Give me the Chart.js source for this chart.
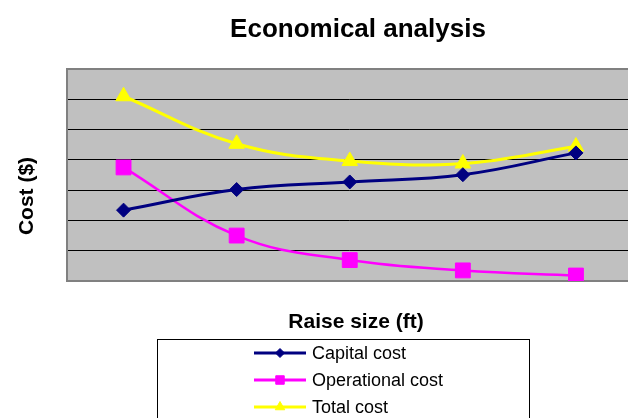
<!DOCTYPE html>
<html>
<head>
<meta charset="utf-8">
<script src="https://cdn.jsdelivr.net/npm/chart.js@4"></script>
<style>
  html, body { margin: 0; padding: 0; background: #fff; overflow: hidden; }
  #wrap { width: 644px; height: 418px; }
  #costChart { display: block; width: 644px; height: 418px; }
</style>
</head>
<body>
<div id="wrap"><canvas id="costChart" width="644" height="418"></canvas></div>
<script>
// Raise size categories (no tick labels drawn) and cost series
const raiseSizes = ['1', '2', '3', '4', '5'];
const capitalCost = [23.4, 30.2, 32.7, 35.1, 42.3];
const operationalCost = [37.5, 15.0, 6.9, 3.5, 1.8];
const totalCost = [61.0, 45.3, 39.6, 38.8, 44.4];
const costTicks = [0, 10, 20, 30, 40, 50, 60, 70];

const FONT = '"Liberation Sans", Arial, Helvetica, sans-serif';

// gray plot background + frame
const plotFrame = {
  id: 'plotFrame',
  beforeDraw(chart) {
    const { ctx, chartArea: a } = chart;
    ctx.save();
    ctx.fillStyle = '#C0C0C0';
    ctx.fillRect(a.left, a.top, a.right - a.left, a.bottom - a.top);
    ctx.restore();
  },
  beforeDatasetsDraw(chart) {
    const { ctx, chartArea: a } = chart;
    ctx.save();
    ctx.strokeStyle = '#808080';
    ctx.lineWidth = 2;
    ctx.strokeRect(a.left, a.top, a.right - a.left, a.bottom - a.top);
    ctx.restore();
  }
};

// title, axis titles and the boxed legend
const chartText = {
  id: 'chartText',
  afterDraw(chart) {
    const ctx = chart.ctx;
    ctx.save();
    ctx.fillStyle = '#000';
    ctx.textAlign = 'center';
    ctx.textBaseline = 'alphabetic';

    ctx.font = 'bold 26px ' + FONT;
    ctx.fillText('Economical analysis', 358, 37);

    ctx.font = 'bold 21px ' + FONT;
    ctx.fillText('Raise size (ft)', 356, 328);

    ctx.save();
    ctx.translate(33, 196);
    ctx.rotate(-Math.PI / 2);
    ctx.fillText('Cost ($)', 0, 0);
    ctx.restore();

    // legend box
    ctx.strokeStyle = '#000';
    ctx.lineWidth = 1;
    ctx.strokeRect(157.5, 339.5, 372, 100);

    const markerSize = { rectRot: 4.5, rect: 6, triangle: 5.5 };
    ctx.font = '18px ' + FONT;
    ctx.textAlign = 'left';
    ctx.textBaseline = 'middle';
    chart.data.datasets.forEach((ds, i) => {
      const y = 353 + i * 27;
      ctx.strokeStyle = ds.borderColor;
      ctx.lineWidth = 3;
      ctx.beginPath();
      ctx.moveTo(254, y);
      ctx.lineTo(306, y);
      ctx.stroke();
      ctx.fillStyle = ds.pointBackgroundColor;
      ctx.strokeStyle = ds.pointBorderColor;
      ctx.lineWidth = 1;
      Chart.helpers.drawPoint(ctx, {
        pointStyle: ds.pointStyle,
        radius: markerSize[ds.pointStyle],
        rotation: 0,
        borderWidth: 1
      }, 280, y);
      ctx.fillStyle = '#000';
      ctx.fillText(ds.label, 312, y + 1);
    });
    ctx.restore();
  }
};

function series(label, data, color, style, radius, width) {
  return {
    label: label,
    data: data,
    borderColor: color,
    backgroundColor: color,
    borderWidth: width,
    pointStyle: style,
    pointRadius: radius,
    pointHoverRadius: radius,
    pointBackgroundColor: color,
    pointBorderColor: color,
    pointBorderWidth: 1,
    tension: 0.4,
    fill: false
  };
}

new Chart(document.getElementById('costChart'), {
  type: 'line',
  data: {
    labels: raiseSizes,
    datasets: [
      series('Capital cost', capitalCost, '#000080', 'rectRot', 7, 3),
      series('Operational cost', operationalCost, '#FF00FF', 'rect', 10.5, 2.5),
      series('Total cost', totalCost, '#FFFF00', 'triangle', 9, 3)
    ]
  },
  options: {
    responsive: false,
    animation: false,
    devicePixelRatio: 1,
    layout: { padding: { left: 67, top: 69, right: 3, bottom: 137 } },
    scales: {
      x: {
        offset: true,
        grid: { display: false, drawTicks: false },
        border: { display: false },
        ticks: { display: false }
      },
      y: {
        min: 0,
        max: 70,
        afterBuildTicks(scale) {
          scale.ticks = costTicks.map(v => ({ value: v }));
        },
        grid: { color: '#000', lineWidth: 1, drawTicks: false },
        border: { display: false },
        ticks: { display: false }
      }
    },
    plugins: {
      legend: { display: false },
      title: { display: false },
      tooltip: { enabled: false }
    }
  },
  plugins: [plotFrame, chartText]
});
</script>
</body>
</html>
